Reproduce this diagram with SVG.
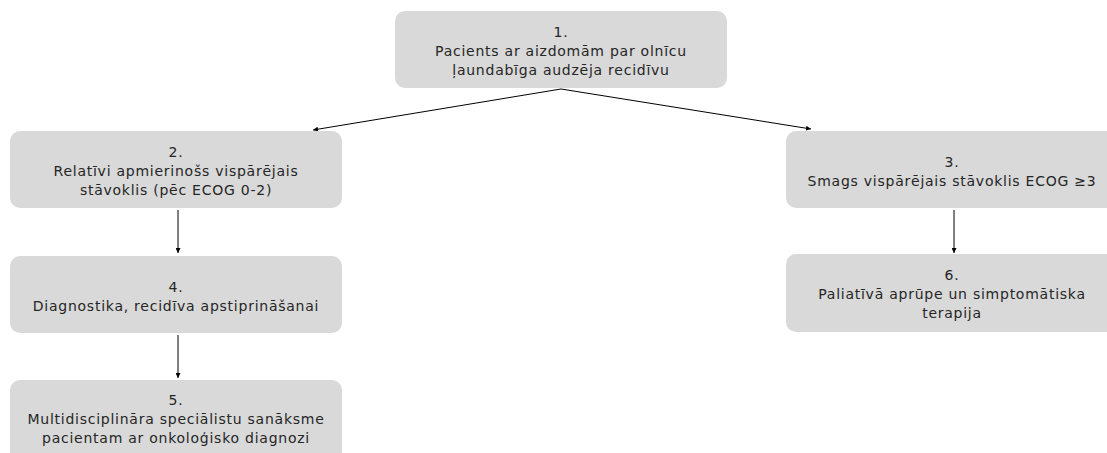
<svg xmlns="http://www.w3.org/2000/svg" width="1107" height="453" viewBox="0 0 1107 453">
<style>
.box{fill:#d9d9d9;}
.t{font-family:"DejaVu Sans",Verdana,sans-serif;font-size:14px;letter-spacing:0.75px;fill:#262626;text-anchor:middle;}
.c{stroke:#000;stroke-width:1;fill:none;marker-end:url(#ah);}
</style>
<defs>
<marker id="ah" viewBox="0 0 10 10" refX="10" refY="5" markerWidth="5" markerHeight="5" orient="auto" markerUnits="userSpaceOnUse">
<path d="M0,0 L10,5 L0,10 z" fill="#000"/>
</marker>
</defs>
<rect width="1107" height="453" fill="#fff"/>
<g id="connectors">
<line class="c" x1="561" y1="89" x2="313" y2="130"/>
<line class="c" x1="561" y1="89" x2="811" y2="129"/>
<line class="c" x1="178" y1="210" x2="178" y2="253"/>
<line class="c" x1="178" y1="335" x2="178" y2="378"/>
<line class="c" x1="954" y1="210" x2="954" y2="253"/>
</g>
<g id="node1">
<rect class="box" x="395" y="11" width="332" height="77" rx="10"/>
<text class="t" x="561" y="37">1.</text>
<text class="t" x="561" y="56">Pacients ar aizdomām par olnīcu</text>
<text class="t" x="561" y="75">ļaundabīga audzēja recidīvu</text>
</g>
<g id="node2">
<rect class="box" x="10" y="131" width="332" height="77" rx="10"/>
<text class="t" x="176" y="157">2.</text>
<text class="t" x="176" y="176">Relatīvi apmierinošs vispārējais</text>
<text class="t" x="176" y="195">stāvoklis (pēc ECOG 0-2)</text>
</g>
<g id="node3">
<rect class="box" x="786" y="131" width="332" height="77" rx="10"/>
<text class="t" x="952" y="167">3.</text>
<text class="t" x="952" y="186">Smags vispārējais stāvoklis ECOG ≥3</text>
</g>
<g id="node4">
<rect class="box" x="10" y="256" width="332" height="77" rx="10"/>
<text class="t" x="176" y="292">4.</text>
<text class="t" x="176" y="311">Diagnostika, recidīva apstiprināšanai</text>
</g>
<g id="node5">
<rect class="box" x="10" y="380" width="332" height="85" rx="10"/>
<text class="t" x="176" y="405">5.</text>
<text class="t" x="176" y="424">Multidisciplināra speciālistu sanāksme</text>
<text class="t" x="176" y="443">pacientam ar onkoloģisko diagnozi</text>
</g>
<g id="node6">
<rect class="box" x="786" y="254" width="332" height="78" rx="10"/>
<text class="t" x="952" y="280">6.</text>
<text class="t" x="952" y="299">Paliatīvā aprūpe un simptomātiska</text>
<text class="t" x="952" y="318">terapija</text>
</g>
</svg>
